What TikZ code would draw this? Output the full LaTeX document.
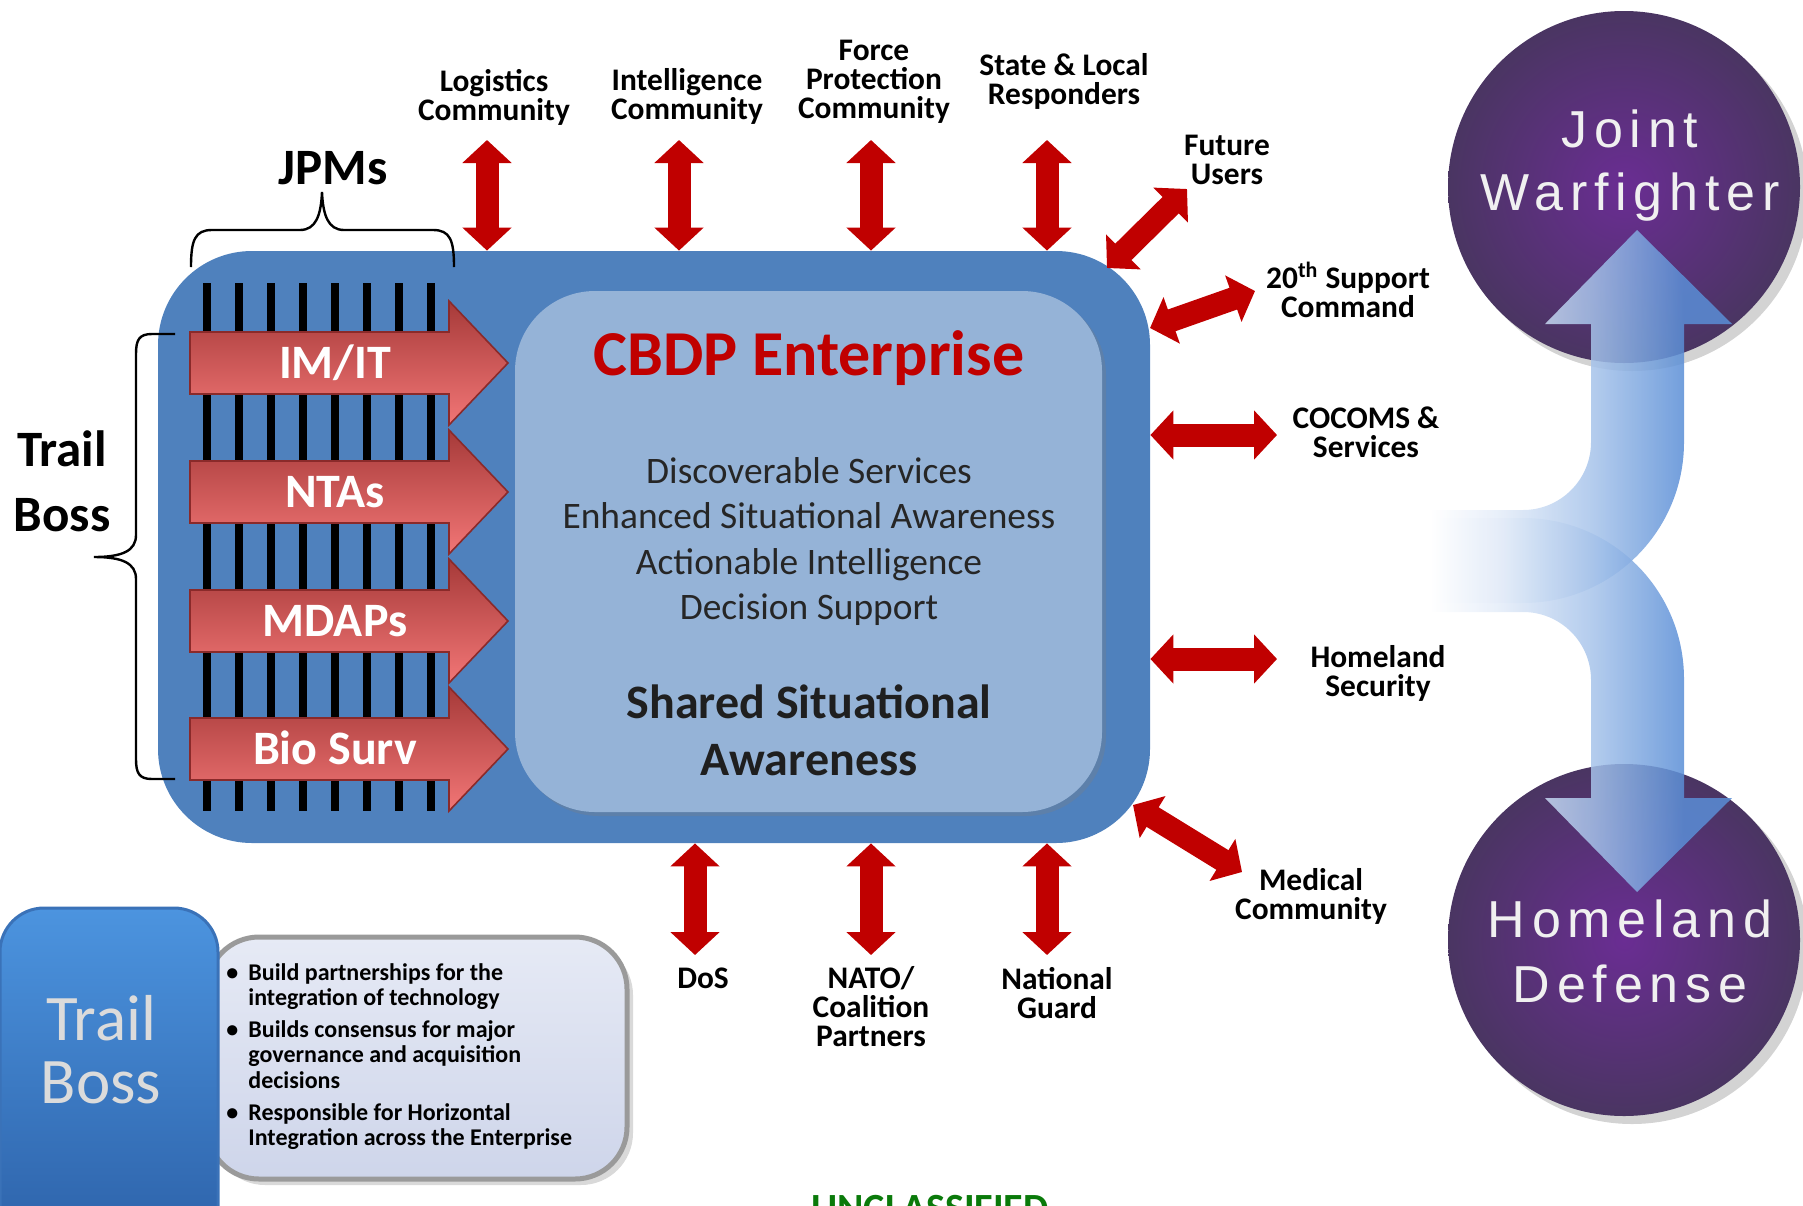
\documentclass[tikz,border=0pt]{standalone}
\usepackage{fontspec}
\setmainfont{Carlito}
\newfontfamily\circfont{Liberation Sans}[LetterSpace=13]
\usetikzlibrary{arrows.meta,shadows}
\definecolor{mainblue}{HTML}{4F81BD}
\definecolor{innerblue}{HTML}{95B3D7}
\definecolor{cred}{HTML}{C00000}
\definecolor{rtop}{HTML}{A63A39}
\definecolor{rbot}{HTML}{F27676}
\definecolor{rline}{HTML}{8A2A2A}
\definecolor{purpin}{HTML}{6A2D93}
\definecolor{purpout}{HTML}{4A3562}
\definecolor{arrblue}{HTML}{5A8ED6}
\definecolor{arrlight}{HTML}{A6C3EA}
\definecolor{arrpale}{HTML}{E2EBF8}
\definecolor{txtgray}{HTML}{262626}
\definecolor{tbtop}{HTML}{4C94DF}
\definecolor{tbbot}{HTML}{2B5FA6}
\definecolor{tbline}{HTML}{3A72B8}
\definecolor{lbtop}{HTML}{E6EAF5}
\definecolor{lbbot}{HTML}{CED5EA}
\definecolor{lbline}{HTML}{9A9A9A}
\definecolor{uncl}{HTML}{0A7A0A}
\pgfdeclarehorizontalshading{bigarr}{100bp}{color(0bp)=(white); color(25bp)=(white); color(37bp)=(arrpale); color(52bp)=(arrlight); color(67bp)=(arrblue); color(100bp)=(arrblue)}
\begin{document}
\begin{tikzpicture}[x=0.5pt,y=-0.5pt,
  lab/.style={font=\fontsize{15.7}{14.5}\selectfont\bfseries, align=center, inner sep=0pt},
  dbl/.style={draw=cred, line width=11.5pt, {Triangle[width=24pt,length=11.5pt]}-{Triangle[width=24pt,length=11.5pt]}},
  redlbl/.style={font=\fontsize{24}{26}\selectfont\bfseries, text=white, anchor=base, inner sep=0pt},
  redarrow/.style={top color=rtop, bottom color=rbot, draw=rline, line width=0.8pt},
  ctext/.style={font=\circfont\fontsize{26}{30}\selectfont, text=white!94!black, anchor=base, inner sep=0pt},
  bodytxt/.style={font=\fontsize{18.7}{21}\selectfont, text=txtgray, anchor=base, inner sep=0pt},
  sharedtxt/.style={font=\fontsize{24}{28}\selectfont\bfseries, text=black!88, anchor=base, inner sep=0pt},
  bullettxt/.style={font=\fontsize{12}{14}\selectfont\bfseries, anchor=base west, inner sep=0pt},
  bigarrow/.style={shading=bigarr, fill opacity=0.85},
  purpcirc/.style={circle, inner color=purpin, outer color=purpout, minimum size=176pt, inner sep=0pt, drop shadow={opacity=0.35, shadow xshift=4pt, shadow yshift=-4pt}},
  bracesty/.style={draw=black, line width=1.2pt},
]
\useasboundingbox (0,0) rectangle (1803,1205);
\clip (0,0) rectangle (1803,1205);

% circles
\node[purpcirc] (jwc) at (1624,187) {};
\node[purpcirc] (hdc) at (1624,940) {};

% big blue arrows
\shade[bigarrow] (1430,510) -- (1523,510) .. controls (1560.6,510) and (1591,479.6) .. (1591,442) -- (1591,324) -- (1545,324) -- (1637,230) -- (1732,324) -- (1684,324) -- (1684,442) .. controls (1684,531) and (1612,603) .. (1523,603) -- (1430,603) -- cycle;
\shade[bigarrow] (1430,518) -- (1523,518) .. controls (1612,518) and (1684,590) .. (1684,679) -- (1684,798) -- (1732,798) -- (1637,892) -- (1545,798) -- (1591,798) -- (1591,680) .. controls (1591,642.4) and (1560.6,612) .. (1523,612) -- (1430,612) -- cycle;

\node[ctext] (jw1) at (1630,147) {Joint};
\node[ctext] (jw2) at (1630,210) {Warfighter};
\node[ctext] (hd1) at (1630,937) {Homeland};
\node[ctext] (hd2) at (1630,1002) {Defense};

% enterprise boxes
\node[fill=mainblue, rounded corners=47pt, minimum width=496pt, minimum height=296pt, inner sep=0pt] (ent) at (654,547) {};
\foreach \bx in {207,239,271,303,335,367,399,431} \fill[black] (\bx-4,283) rectangle (\bx+4,811);
\node[fill=innerblue, rounded corners=40pt, minimum width=293.5pt, minimum height=260.5pt, inner sep=0pt, drop shadow={opacity=0.3, shadow xshift=2pt, shadow yshift=-2pt}] (core) at (808.5,551.5) {};

\foreach \yc/\lab/\nm in {363/{IM/IT}/imit, 492/NTAs/ntas, 621/MDAPs/mdaps, 749/{Bio Surv}/bio}{
  \draw[redarrow] (190,\yc-31) -- (449,\yc-31) -- (449,\yc-62) -- (508,\yc) -- (449,\yc+62) -- (449,\yc+31) -- (190,\yc+31) -- cycle;
  \node[redlbl] (\nm) at (335,\yc+15) {\lab};
}

\node[font=\fontsize{32}{36}\selectfont\bfseries, text=cred, anchor=base, inner sep=0pt] (cbdp) at (809,375) {CBDP Enterprise};
\node[bodytxt] (t1) at (809,483) {Discoverable Services};
\node[bodytxt] (t2) at (809,528.5) {Enhanced Situational Awareness};
\node[bodytxt] (t3) at (809,574) {Actionable Intelligence};
\node[bodytxt] (t4) at (809,619.5) {Decision Support};
\node[sharedtxt] (s1) at (809,718) {Shared Situational};
\node[sharedtxt] (s2) at (809,775) {Awareness};

% braces
\draw[bracesty] (191,267) .. controls (191,240) and (195,230) .. (212,230) -- (300,230) .. controls (316,230) and (321,215) .. (322,192) .. controls (323,215) and (328,230) .. (344,230) -- (433,230) .. controls (450,230) and (454,240) .. (454,267);
\draw[bracesty] (175,334) -- (152,334) .. controls (139,334) and (136,340) .. (136,354) -- (136,535) .. controls (136,551) and (122,557) .. (94,557) .. controls (122,557) and (136,563) .. (136,579) -- (136,759) .. controls (136,773) and (139,779) .. (152,779) -- (175,779);
\node[font=\fontsize{25.5}{30}\selectfont\bfseries, anchor=base, inner sep=0pt] (jpms) at (333,184) {JPMs};
\node[font=\fontsize{25.5}{32.5}\selectfont\bfseries, align=center, inner sep=0pt] (tbl) at (62,481) {Trail\\Boss};

% labels
\node[lab] (logl) at (494,97) {Logistics\\Community};
\node[lab] (intl) at (687,96) {Intelligence\\Community};
\node[lab] (forl) at (874,82) {Force\\Protection\\Community};
\node[lab] (stl) at (1064,81) {State \& Local\\Responders};
\node[lab] (ful) at (1227,160) {Future\\Users};
\node[lab] (twl) at (1348,290) {20\textsuperscript{th} Support\\Command};
\node[lab] (col) at (1366,432) {COCOMS \&\\Services};
\node[lab] (hsl) at (1378,673) {Homeland\\Security};
\node[lab] (mel) at (1311,896) {Medical\\Community};
\node[lab] (dol) at (703,978) {DoS};
\node[lab] (nal) at (871,1007) {NATO/\\Coalition\\Partners};
\node[lab] (ngl) at (1057,993) {National\\Guard};

% red double arrows
\coordinate (logt) at (487,140);
\coordinate (intt) at (679,140);
\coordinate (fort) at (871,140);
\coordinate (stt) at (1047,140);
\coordinate (dosb) at (695,955);
\coordinate (natb) at (871,955);
\coordinate (ngb) at (1047,955);
\coordinate (fua) at (1107,268);
\coordinate (fub) at (1187,189);
\coordinate (twa) at (1150,328);
\coordinate (twb) at (1255,291);
\coordinate (cot) at (1277,435);
\coordinate (hst) at (1277,659);
\coordinate (mea) at (1133,805);
\coordinate (meb) at (1242,872);
\draw[dbl] (logt) -- (logt |- ent.north);
\draw[dbl] (intt) -- (intt |- ent.north);
\draw[dbl] (fort) -- (fort |- ent.north);
\draw[dbl] (stt) -- (stt |- ent.north);
\draw[dbl] (ent.south -| dosb) -- (dosb);
\draw[dbl] (ent.south -| natb) -- (natb);
\draw[dbl] (ent.south -| ngb) -- (ngb);
\draw[dbl] (fua) -- (fub);
\draw[dbl] (twa) -- (twb);
\draw[dbl] (ent.east |- cot) -- (cot);
\draw[dbl] (ent.east |- hst) -- (hst);
\draw[dbl] (mea) -- (meb);

% trail boss box
\draw[top color=lbtop, bottom color=lbbot, draw=lbline, line width=2.5pt, rounded corners=26pt, drop shadow={opacity=0.3, shadow xshift=3pt, shadow yshift=-3pt}] (207,937) rectangle (627,1179);
\draw[top color=tbtop, bottom color=tbbot, draw=tbline, line width=1.5pt, rounded corners=22pt] (0,908) rectangle (218,1265);
\node[font=\fontsize{32.5}{31.5}\selectfont, text=white!86!black, align=center, inner sep=0pt] (tbb) at (101,1050) {Trail\\Boss};
\node[bullettxt] (p1) at (226,980) {•};
\node[bullettxt] (p2) at (226,1037) {•};
\node[bullettxt] (p3) at (226,1120) {•};
\node[bullettxt] (l1) at (248,980) {Build partnerships for the};
\node[bullettxt] (l2) at (248,1005) {integration of technology};
\node[bullettxt] (l3) at (248,1037) {Builds consensus for major};
\node[bullettxt] (l4) at (248,1062) {governance and acquisition};
\node[bullettxt] (l5) at (248,1088) {decisions};
\node[bullettxt] (l6) at (248,1120) {Responsible for Horizontal};
\node[bullettxt] (l7) at (248,1145) {Integration across the Enterprise};

\node[font=\fontsize{20}{24}\selectfont\bfseries, text=uncl, anchor=base, inner sep=0pt] (unc) at (930,1221) {UNCLASSIFIED};
\end{tikzpicture}
\end{document}
